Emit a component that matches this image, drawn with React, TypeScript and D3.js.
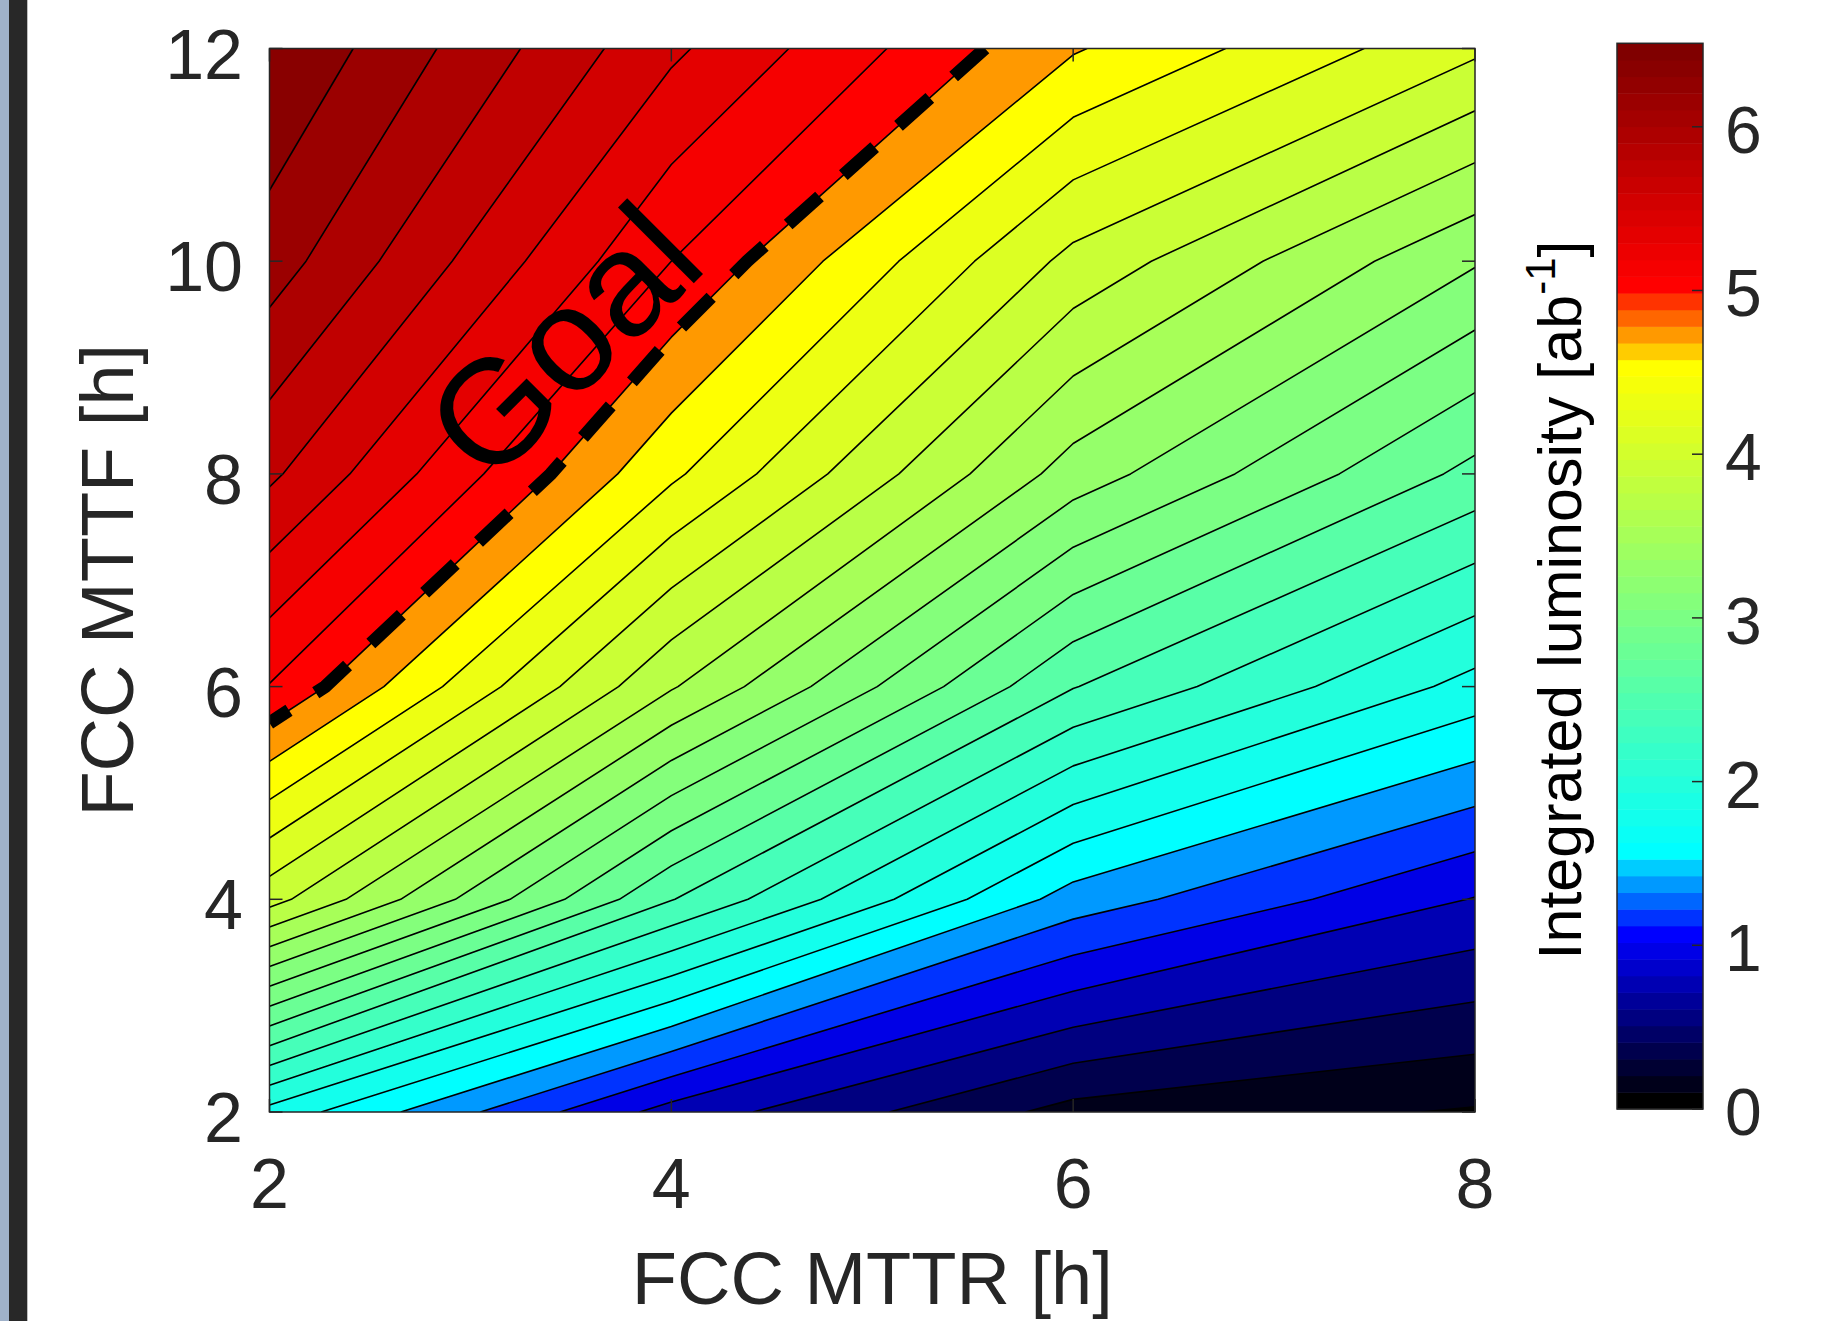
import React from "react";
import * as d3 from "d3";

// ---------- data ----------
const mttr = [2, 4, 6, 8]; // FCC MTTR [h]
const mttf = [2, 4, 6, 8, 10, 12]; // FCC MTTF [h]
// integrated luminosity [ab^-1] per MTTF row, columns follow mttr
const lumiMttf2 = [1.78, 0.77, 0.18, 0.03];
const lumiMttf4 = [3.93, 2.46, 1.36, 0.84];
const lumiMttf6 = [5.04, 3.67, 2.46, 1.78];
const lumiMttf8 = [5.69, 4.49, 3.36, 2.59];
const lumiMttf10 = [6.15, 5.05, 3.99, 3.27];
const lumiMttf12 = [6.45, 5.49, 4.67, 4.09];

const contourLevels = [
  0.05, 0.25, 0.45, 0.65, 0.85, 1.05, 1.25, 1.45, 1.65, 1.85, 2.05, 2.25, 2.45,
  2.65, 2.85, 3.05, 3.25, 3.45, 3.65, 3.85, 4.05, 4.25, 4.45, 4.65, 4.85, 5.05,
  5.25, 5.45, 5.65, 5.85, 6.05, 6.25,
];
const goalLevel = 4.85;

const xTicks = [2, 4, 6, 8];
const yTicks = [2, 4, 6, 8, 10, 12];
const cbTicks = [0, 1, 2, 3, 4, 5, 6];
const cbMax = 6.51;
const nColors = 64;

// ---------- colormap ----------
function cmapIndex(i: number): string {
  let r = 0, g = 0, b = 0;
  if (i <= 10) {
    b = 25.5 * i;
  } else if (i <= 14) {
    g = 51 * (i - 10);
    b = 255;
  } else if (i <= 44) {
    const t = (i - 15) / 29;
    r = 255 * t;
    g = 255;
    b = 255 * (1 - t);
  } else if (i <= 48) {
    r = 255;
    g = 255 - 51 * (i - 44);
  } else {
    const t = (i - 49) / 14;
    r = 255 - 127 * t;
  }
  return `rgb(${Math.round(r)},${Math.round(g)},${Math.round(b)})`;
}
function bandColor(v: number): string {
  let i = Math.max(0, Math.min(nColors - 1, Math.floor((v / cbMax) * nColors)));
  if (i === 48) i = 49; // the band right above the goal is drawn pure red
  return cmapIndex(i);
}

// ---------- layout ----------
const W = 1827;
const H = 1321;
const PL = 269.5, PR = 1475, PT = 48.5, PB = 1112;
const CBL = 1617, CBR = 1703, CBT = 43.3, CBB = 1109;
const FONT = "'Liberation Sans', Arial, Helvetica, sans-serif";
const AX = "#262626";

function interiorLines(ring: number[][], nx: number, ny: number): number[][][] {
  const inside = (p: number[]) => p[0] > 0 && p[0] < nx && p[1] > 0 && p[1] < ny;
  const n = ring.length;
  const keep = (i: number) => inside(ring[i]) && inside(ring[i + 1]);
  let start = -1;
  for (let i = 0; i < n - 1; i++) if (!keep(i)) { start = i; break; }
  if (start < 0) return [ring];
  const lines: number[][][] = [];
  let cur: number[][] | null = null;
  for (let k = 1; k <= n - 1; k++) {
    const i = (start + k) % (n - 1);
    if (keep(i)) {
      if (!cur) { cur = [ring[i]]; lines.push(cur); }
      cur.push(ring[i + 1]);
    } else cur = null;
  }
  return lines;
}

export default function App() {
  const x = d3.scaleLinear().domain([2, 8]).range([PL, PR]);
  const y = d3.scaleLinear().domain([2, 12]).range([PB, PT]);
  const cb = d3.scaleLinear().domain([0, cbMax]).range([CBB, CBT]);

  const nx = mttr.length;
  const ny = mttf.length;
  const values = [
    ...lumiMttf2, ...lumiMttf4, ...lumiMttf6, ...lumiMttf8, ...lumiMttf10, ...lumiMttf12,
  ];
  const dxStep = (mttr[nx - 1] - mttr[0]) / (nx - 1);
  const dyStep = (mttf[ny - 1] - mttf[0]) / (ny - 1);
  const toPx = (p: number[]) => {
    const xv = Math.max(mttr[0], Math.min(mttr[nx - 1], mttr[0] + (p[0] - 0.5) * dxStep));
    const yv = Math.max(mttf[0], Math.min(mttf[ny - 1], mttf[0] + (p[1] - 0.5) * dyStep));
    return [x(xv), y(yv)];
  };

  const gen = d3.contours().size([nx, ny]).smooth(true).thresholds(contourLevels);
  const contours = gen(values);

  const fills = contours.map((c, k) => {
    let d = "";
    for (const poly of c.coordinates) {
      for (const ring of poly) {
        d += "M" + ring.map((p) => toPx(p).map((q) => q.toFixed(2)).join(",")).join("L") + "Z";
      }
    }
    return <path key={"f" + k} d={d} fill={bandColor(c.value + 0.1)} fillRule="evenodd" stroke="none" />;
  });

  const linePath = (c: any) => {
    let d = "";
    for (const poly of c.coordinates) {
      for (const ring of poly) {
        for (const ln of interiorLines(ring, nx, ny)) {
          d += "M" + ln.map((p) => toPx(p).map((q) => q.toFixed(2)).join(",")).join("L");
        }
      }
    }
    return d;
  };

  const lines = contours.map((c, k) => (
    <path key={"l" + k} d={linePath(c)} fill="none" stroke="#000" strokeWidth={1.6} strokeLinejoin="round" />
  ));
  const goalContour = d3.contours().size([nx, ny]).smooth(true).thresholds([goalLevel])(values)[0];

  const cbBins = d3.range(nColors);
  const bw = cbMax / nColors;

  return (
    <div style={{ position: "absolute", left: 0, top: 0 }}>
      <svg width={W} height={H} style={{ display: "block" }} fontFamily={FONT}>
        <rect x={0} y={0} width={W} height={H} fill="#ffffff" />
        <rect x={0} y={0} width={9} height={H} fill="#9fb1c9" />
        <rect x={9} y={0} width={18.3} height={H} fill="#282828" />

        <defs>
          <clipPath id="plotclip">
            <rect x={PL} y={PT} width={PR - PL} height={PB - PT} />
          </clipPath>
        </defs>
        <g clipPath="url(#plotclip)">
          <rect x={PL} y={PT} width={PR - PL} height={PB - PT} fill={bandColor(0)} />
          {fills}
          {lines}
          <path d={linePath(goalContour)} fill="none" stroke="#000" strokeWidth={13} strokeDasharray="42 32" strokeLinecap="butt" />
        </g>

        {/* axes box */}
        <rect x={PL} y={PT} width={PR - PL} height={PB - PT} fill="none" stroke={AX} strokeWidth={1.5} />
        {xTicks.map((t) => (
          <g key={"xt" + t}>
            <line x1={x(t)} x2={x(t)} y1={PB} y2={PB - 13} stroke={AX} strokeWidth={1.5} />
            <line x1={x(t)} x2={x(t)} y1={PT} y2={PT + 13} stroke={AX} strokeWidth={1.5} />
            <text x={x(t)} y={1208} textAnchor="middle" fontSize={70} fill={AX}>{t}</text>
          </g>
        ))}
        {yTicks.map((t) => (
          <g key={"yt" + t}>
            <line x1={PL} x2={PL + 13} y1={y(t)} y2={y(t)} stroke={AX} strokeWidth={1.5} />
            <line x1={PR} x2={PR - 13} y1={y(t)} y2={y(t)} stroke={AX} strokeWidth={1.5} />
            <text x={243} y={y(t) + 30} textAnchor="end" fontSize={70} fill={AX}>{t}</text>
          </g>
        ))}
        <text x={(PL + PR) / 2} y={1304} textAnchor="middle" fontSize={74} fill={AX}>FCC MTTR [h]</text>
        <text transform={`translate(133,${(PT + PB) / 2}) rotate(-90)`} textAnchor="middle" fontSize={74} fill={AX}>FCC MTTF [h]</text>

        {/* Goal annotation */}
        <text transform="translate(562,340) rotate(-45)" y={53} textAnchor="middle" fontSize={148} fill="#000">Goal</text>

        {/* colorbar */}
        {cbBins.map((i) => (
          <rect key={"cb" + i} x={CBL} width={CBR - CBL} y={cb((i + 1) * bw)} height={cb(i * bw) - cb((i + 1) * bw) + 0.5} fill={cmapIndex(i)} />
        ))}
        <rect x={CBL} y={CBT} width={CBR - CBL} height={CBB - CBT} fill="none" stroke={AX} strokeWidth={1.5} />
        {cbTicks.map((t) => (
          <g key={"cbt" + t}>
            <line x1={CBR} x2={CBR - 11} y1={cb(t)} y2={cb(t)} stroke={AX} strokeWidth={1.5} />
            <text x={1725} y={cb(t) + 26} fontSize={66} fill={AX}>{t}</text>
          </g>
        ))}
        <text transform={`translate(1581,600) rotate(-90)`} textAnchor="middle" fontSize={61} fill="#000">
          Integrated luminosity [ab<tspan dy={-26} fontSize={42}>-1</tspan><tspan dy={26}>]</tspan>
        </text>
      </svg>
    </div>
  );
}
